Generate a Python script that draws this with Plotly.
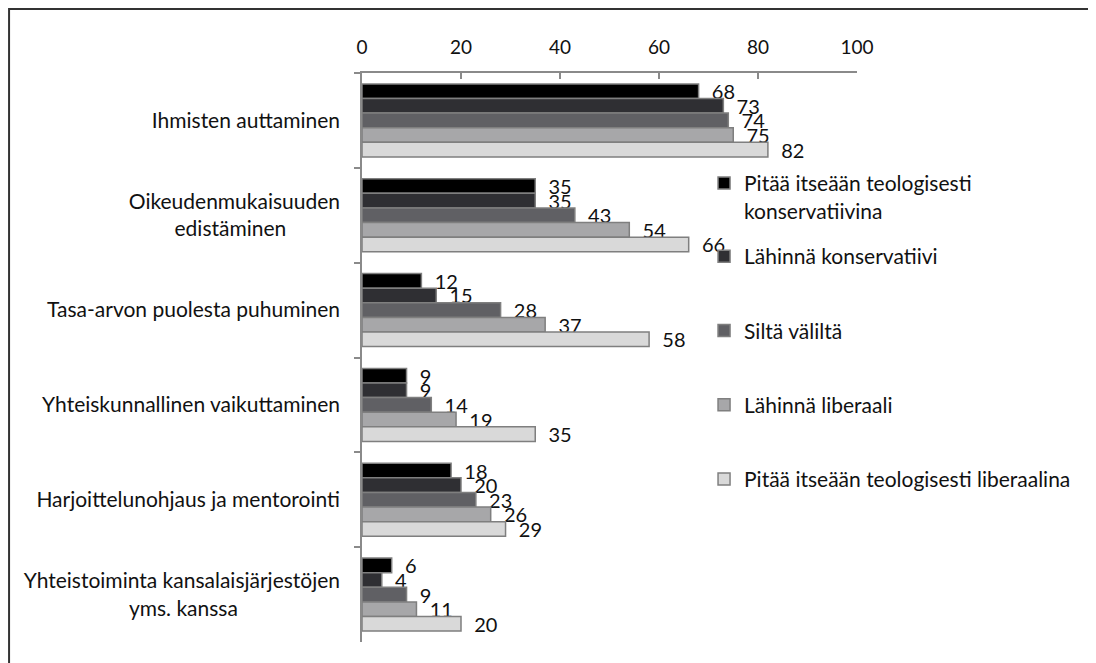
import plotly.graph_objects as go

categories = [
    "Ihmisten auttaminen",
    "Oikeudenmukaisuuden<br>edistäminen" + "\u00a0" * 10,
    "Tasa-arvon puolesta puhuminen",
    "Yhteiskunnallinen vaikuttaminen",
    "Harjoittelunohjaus ja mentorointi",
    "Yhteistoiminta kansalaisjärjestöjen<br>yms. kanssa" + "\u00a0" * 19,
]

series_names = [
    "Pitää itseään teologisesti<br>konservatiivina",
    "Lähinnä konservatiivi",
    "Siltä väliltä",
    "Lähinnä liberaali",
    "Pitää itseään teologisesti liberaalina",
]

konservatiivina = [68, 35, 12, 9, 18, 6]
lahinna_konservatiivi = [73, 35, 15, 9, 20, 4]
silta_valilta = [74, 43, 28, 14, 23, 9]
lahinna_liberaali = [75, 54, 37, 19, 26, 11]
liberaalina = [82, 66, 58, 35, 29, 20]

values = [konservatiivina, lahinna_konservatiivi, silta_valilta,
          lahinna_liberaali, liberaalina]
colors = ["#000000", "#2f2f33", "#606064", "#a7a7a9", "#d9d9d9"]

FONT = "Lato, 'Open Sans', sans-serif"

fig = go.Figure()
for i, (name, vals, col) in enumerate(zip(series_names, values, colors)):
    fig.add_trace(go.Bar(
        name=name, x=vals, y=categories, orientation="h",
        marker=dict(color=col, line=dict(color="#7f7f7f", width=1.5)),
        text=vals, texttemplate="  %{text}", textposition="outside",
        textfont=dict(size=20, color="#111111", family=FONT),
        constraintext="none", cliponaxis=False, legendgroup=f"g{i}",
        # the two-line first entry sits in its own legend so the others keep
        # the even spacing of the original
        legend="legend" if i == 0 else "legend2",
    ))

# page body adds an 8px margin, so everything is laid out 8px up/left
fig.update_layout(
    width=1096, height=663,
    paper_bgcolor="white", plot_bgcolor="white",
    font=dict(family=FONT, size=21, color="#111111"),
    barmode="group", bargap=0.23, bargroupgap=0,
    margin=dict(l=354, r=247, t=65, b=29),
    showlegend=True,
    xaxis=dict(side="top", range=[0, 100], dtick=20, showgrid=False,
               zeroline=False, showline=True, linecolor="#8a8a8a",
               linewidth=1.5, ticks="inside", ticklen=6,
               tickcolor="#8a8a8a", tickwidth=1.5, automargin=False,
               tickfont=dict(size=19), ticklabelstandoff=10),
    yaxis=dict(autorange="reversed", showgrid=False, showline=True,
               linecolor="#8a8a8a", linewidth=1.5, ticks="outside",
               tickson="boundaries", ticklen=6, tickcolor="#8a8a8a",
               tickwidth=1.5, ticklabelstandoff=16, automargin=False),
    legend=dict(x=0.691, y=0.842, xanchor="left", yanchor="top",
                font=dict(size=21), valign="top", itemwidth=30,
                bgcolor="rgba(0,0,0,0)"),
    legend2=dict(x=0.691, y=0.7135, xanchor="left", yanchor="top",
                 font=dict(size=21), tracegroupgap=44, valign="top",
                 itemwidth=30, bgcolor="rgba(0,0,0,0)"),
    shapes=[dict(type="rect", xref="paper", yref="paper",
                 x0=-0.713, x1=1.479, y0=-0.063, y1=1.1125,
                 line=dict(color="#333333", width=2))],
)

fig.write_html("out.html")
